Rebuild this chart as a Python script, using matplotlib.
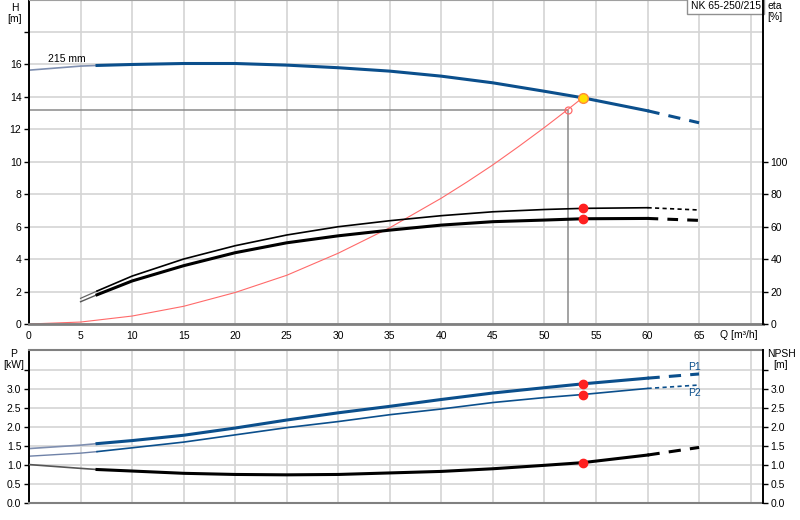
import matplotlib.pyplot as plt
import numpy as np

plt.rcParams['font.family'] = ['Liberation Sans', 'DejaVu Sans']
plt.rcParams['font.size'] = 7.5

# flow values [m3/h]
q = [0, 5, 6.6, 10, 15, 20, 25, 30, 35, 40, 45, 50, 53.7, 60, 65]
head = [15.63, 15.88, 15.92, 15.98, 16.04, 16.04, 15.94, 15.78, 15.57, 15.26, 14.85, 14.33, 13.93, 13.13, 12.39]

q_eta = [5, 6.6, 10, 15, 20, 25, 30, 35, 40, 45, 50, 53.7, 60, 65]
eta_1 = [15.8, 20.3, 29.5, 40.0, 48.2, 54.8, 59.9, 63.6, 66.7, 69.1, 70.5, 71.2, 71.6, 70.2]
eta_2 = [13.7, 18.0, 26.5, 35.9, 43.9, 50.0, 54.3, 57.8, 60.9, 63.0, 64.0, 64.8, 65.0, 63.8]

q_sys = [0, 5, 10, 15, 20, 25, 30, 35, 40, 42.5, 45, 47.5, 50, 52.25, 53.7]
h_sys = [0, 0.12, 0.49, 1.09, 1.94, 3.0, 4.36, 5.93, 7.75, 8.75, 9.8, 10.93, 12.1, 13.2, 13.93]

p1 = [1.43, 1.52, 1.56, 1.64, 1.78, 1.97, 2.18, 2.37, 2.54, 2.72, 2.89, 3.03, 3.13, 3.28, 3.39]
p2 = [1.23, 1.31, 1.35, 1.45, 1.6, 1.79, 1.98, 2.14, 2.32, 2.47, 2.64, 2.77, 2.85, 3.01, 3.1]
npsh = [1.01, 0.91, 0.88, 0.84, 0.78, 0.75, 0.74, 0.75, 0.79, 0.83, 0.9, 0.99, 1.06, 1.26, 1.46]

duty_q, duty_h = 53.7, 13.93
req_q, req_h = 52.25, 13.2
q_min = 6.6

q_ticks = list(range(0, 75, 5))
q_labels = [str(v) for v in range(0, 70, 5)] + ['']
p_labels = ['0.0', '0.5', '1.0', '1.5', '2.0', '2.5', '3.0', '']

blue = '#0b4f8c'
grid_c = '#d4d4d4'


def split(x, y, lo=q_min, hi=60):
    # cut a curve into start (thin), main and end (dashed) parts
    x = np.array(x, float)
    y = np.array(y, float)
    main = (x >= lo) & (x <= hi)
    return {'start': (x[x <= lo], y[x <= lo]),
            'main': (x[main], y[main]),
            'end': (x[x >= hi], y[x >= hi])}


fig = plt.figure(figsize=(8, 5.2), dpi=100)
i_d = q.index(duty_q)
i_e = q_eta.index(duty_q)

# ---------- top: head + efficiency ----------
ax = fig.add_axes([29 / 800, 196 / 520, 734 / 800, 324 / 520])
ax.set_xlim(0, 71.2)
ax.set_ylim(0, 19.95)
ax.set_xticks(q_ticks)
ax.set_xticklabels(q_labels)
ax.set_yticks(range(0, 20, 2))
ax.set_yticklabels([str(v) for v in range(0, 18, 2)] + [''])
ax.grid(True, color=grid_c, lw=1.2)
ax.set_axisbelow(True)
ax.tick_params(axis='x', length=0, pad=5)
ax.tick_params(axis='y', direction='out', length=3.5, width=1, pad=2)
ax.spines['left'].set_linewidth(1.4)
ax.spines['bottom'].set_color('#808080')
ax.spines['bottom'].set_linewidth(2)
ax.spines['top'].set_color('#a0a0a0')
ax.spines['right'].set_visible(False)

pp = split(q, head)
ax.plot(*pp['start'], color='#7f8fb0', lw=1.2)
ax.plot(*pp['main'], color=blue, lw=2.2)
ax.plot(*pp['end'], color=blue, lw=2.2, ls=(0, (4, 3)))
ax.plot(q_sys, h_sys, color='#ff6a6a', lw=0.8)
ax.plot([0, req_q, req_q], [req_h, req_h, 0], color='#8a8a8a', lw=1.1, zorder=1.5)
ax.plot(req_q, req_h, 'o', ms=5, mfc='none', mec='#ff6a6a', mew=0.9)
ax.plot(duty_q, duty_h, 'o', ms=7, mfc='#ffe000', mec='#ff8a3a', mew=1, zorder=5)
ax.text(1.8, 16.15, '215 mm', fontsize=7.5)
ax.text(0.997, 0.998, 'NK 65-250/215', transform=ax.transAxes, ha='right', va='top',
        fontsize=7.5, bbox=dict(facecolor='white', edgecolor='#909090', boxstyle='square,pad=0.35'))

ae = ax.twinx()
ae.set_ylim(0, 199.5)
ae.set_yticks(range(0, 120, 20))
ae.tick_params(axis='y', direction='out', length=3.5, width=1, pad=2)
for s in ['left', 'top', 'bottom']:
    ae.spines[s].set_visible(False)
ae.spines['right'].set_linewidth(1.4)

e1 = split(q_eta, eta_1)
ae.plot(*e1['start'], color='#666666', lw=0.9)
ae.plot(*e1['main'], color='black', lw=1.2)
ae.plot(*e1['end'], color='black', lw=1.2, ls=(0, (2.5, 2)))
e2 = split(q_eta, eta_2)
ae.plot(*e2['start'], color='#555555', lw=1)
ae.plot(*e2['main'], color='black', lw=2.2)
ae.plot(*e2['end'], color='black', lw=2.2, ls=(0, (3.5, 3)))
ae.plot([duty_q, duty_q], [eta_1[i_e], eta_2[i_e]], 'o', color='#ff2020', ms=6, ls='none')

fig.text(15 / 800, 1 - 3 / 520, 'H\n[m]', ha='center', va='top', fontsize=7.5, linespacing=1.1)
fig.text(775 / 800, 1 - 1 / 520, 'eta\n[%]', ha='center', va='top', fontsize=7.5, linespacing=1.1)
fig.text(739 / 800, 1 - 335 / 520, 'Q [m³/h]', ha='center', va='center', fontsize=7.5)

# ---------- bottom: power + NPSH ----------
bx = fig.add_axes([29 / 800, 17 / 520, 734 / 800, 153 / 520])
bx.set_xlim(0, 71.2)
bx.set_ylim(0, 4.02)
bx.set_xticks(q_ticks)
bx.set_xticklabels([])
bx.set_yticks(np.arange(0, 4.0, 0.5))
bx.set_yticklabels(p_labels)
bx.grid(True, color=grid_c, lw=1.2)
bx.set_axisbelow(True)
bx.tick_params(axis='x', length=0)
bx.tick_params(axis='y', direction='out', length=3.5, width=1, pad=2)
bx.spines['left'].set_linewidth(1.4)
bx.spines['bottom'].set_color('#808080')
bx.spines['bottom'].set_linewidth(1.5)
bx.spines['top'].set_color('#808080')
bx.spines['top'].set_linewidth(1.5)
bx.spines['right'].set_visible(False)

a = split(q, p1)
bx.plot(*a['start'], color='#7f8fb0', lw=1.2)
bx.plot(*a['main'], color=blue, lw=2.2)
bx.plot(*a['end'], color=blue, lw=2.2, ls=(0, (4, 3)))
b = split(q, p2)
bx.plot(*b['start'], color='#6f82a8', lw=1.0)
bx.plot(*b['main'], color=blue, lw=1.2)
bx.plot(*b['end'], color=blue, lw=1.2, ls=(0, (2.5, 2)))
bx.plot([duty_q, duty_q], [p1[i_d], p2[i_d]], 'o', color='#ff2020', ms=6, ls='none', zorder=5)
bx.text(63.9, 3.5, 'P1', color=blue, fontsize=7.5)
bx.text(63.9, 2.8, 'P2', color=blue, fontsize=7.5)

bn = bx.twinx()
bn.set_ylim(0, 4.02)
bn.set_yticks(np.arange(0, 4.0, 0.5))
bn.set_yticklabels(p_labels)
bn.tick_params(axis='y', direction='out', length=3.5, width=1, pad=2)
for s in ['left', 'top', 'bottom']:
    bn.spines[s].set_visible(False)
bn.spines['right'].set_linewidth(1.4)
n = split(q, npsh)
bn.plot(*n['start'], color='#555555', lw=1.2)
bn.plot(*n['main'], color='black', lw=2.2)
bn.plot(*n['end'], color='black', lw=2.2, ls=(0, (4, 3)))
bn.plot(duty_q, npsh[i_d], 'o', color='#ff2020', ms=6)

fig.text(14 / 800, 1 - 349 / 520, 'P\n[kW]', ha='center', va='top', fontsize=7.5, linespacing=1.1)
fig.text(781 / 800, 1 - 349 / 520, 'NPSH\n[m]', ha='center', va='top', fontsize=7.5, linespacing=1.1)

plt.savefig('out.png', dpi=100)
